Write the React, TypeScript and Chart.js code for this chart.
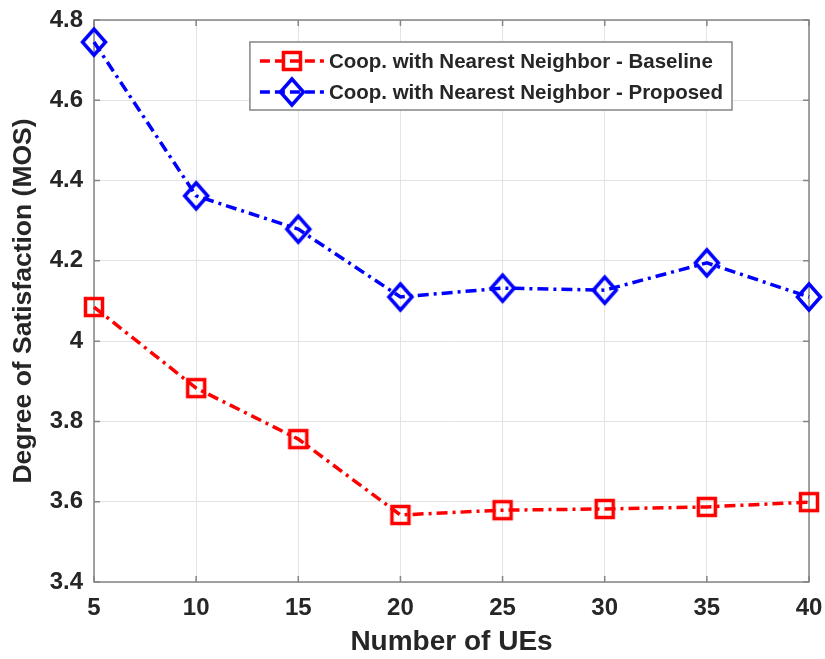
import React, { useEffect, useRef } from 'react';
import { Chart, registerables } from 'chart.js';

Chart.register(...registerables);

const ues = [5, 10, 15, 20, 25, 30, 35, 40];
const baseline = [4.085, 3.883, 3.756, 3.567, 3.579, 3.582, 3.587, 3.599];
const proposed = [4.745, 4.362, 4.279, 4.11, 4.132, 4.127, 4.195, 4.11];
const seriesNames = [
  'Coop. with Nearest Neighbor - Baseline',
  'Coop. with Nearest Neighbor - Proposed',
];
const xTitle = 'Number of UEs';
const yTitle = 'Degree of Satisfaction (MOS)';
const xRange = [5, 40];
const xStep = 5;
const yRange = [3.4, 4.8];
const yStep = 0.2;

const FONT = '"Liberation Sans", Arial, Helvetica, sans-serif';
const TEXT = '#262626';
const AXIS = '#858585';
const DASH = [11, 5, 3, 5];

function makeSquare(color: string) {
  const c = document.createElement('canvas');
  c.width = 24;
  c.height = 24;
  const g = c.getContext('2d')!;
  g.strokeStyle = color;
  g.lineWidth = 3.5;
  g.strokeRect(3.5, 3.5, 17, 17);
  return c;
}

function makeDiamond(color: string) {
  const c = document.createElement('canvas');
  c.width = 30;
  c.height = 34;
  const g = c.getContext('2d')!;
  g.strokeStyle = color;
  g.lineWidth = 3.5;
  g.lineJoin = 'miter';
  g.beginPath();
  g.moveTo(15, 4);
  g.lineTo(26.5, 17);
  g.lineTo(15, 30);
  g.lineTo(3.5, 17);
  g.closePath();
  g.stroke();
  return c;
}

const frameTicksPlugin = {
  id: 'frameTicks',
  beforeDatasetsDraw(chart: any) {
    const { ctx, chartArea, scales } = chart;
    const { left, right, top, bottom } = chartArea;
    ctx.save();
    ctx.strokeStyle = AXIS;
    ctx.lineWidth = 1.5;
    ctx.beginPath();
    const tl = 6;
    scales.x.ticks.forEach((t: any) => {
      const px = scales.x.getPixelForValue(t.value);
      ctx.moveTo(px, bottom);
      ctx.lineTo(px, bottom - tl);
      ctx.moveTo(px, top);
      ctx.lineTo(px, top + tl);
    });
    scales.y.ticks.forEach((t: any) => {
      const py = scales.y.getPixelForValue(t.value);
      ctx.moveTo(left, py);
      ctx.lineTo(left + tl, py);
      ctx.moveTo(right, py);
      ctx.lineTo(right - tl, py);
    });
    ctx.stroke();
    ctx.strokeRect(left, top, right - left, bottom - top);
    ctx.restore();
  },
};

const boxLegendPlugin = {
  id: 'boxLegend',
  afterDatasetsDraw(chart: any) {
    const { ctx, chartArea } = chart;
    const ds = chart.data.datasets;
    ctx.save();
    ctx.font = `bold 20.5px ${FONT}`;
    const textW = Math.max(...ds.map((d: any) => ctx.measureText(d.label).width));
    const padL = 10, sample = 64, gap = 5, padR = 9, rowH = 31;
    const width = padL + sample + gap + textW + padR;
    const height = 68;
    const right = chartArea.right - 77;
    const top = chartArea.top + 22;
    const left = right - width;
    ctx.fillStyle = '#ffffff';
    ctx.fillRect(left, top, width, height);
    ctx.strokeStyle = AXIS;
    ctx.lineWidth = 1.5;
    ctx.strokeRect(left, top, width, height);
    ds.forEach((d: any, i: number) => {
      const y = top + 19 + i * rowH;
      const x0 = left + padL;
      ctx.save();
      ctx.strokeStyle = d.borderColor;
      ctx.lineWidth = 3.5;
      ctx.setLineDash([10, 5]);
      ctx.beginPath();
      ctx.moveTo(x0, y);
      ctx.lineTo(x0 + sample, y);
      ctx.stroke();
      ctx.restore();
      const img = d.pointStyle as HTMLCanvasElement;
      ctx.drawImage(img, x0 + sample / 2 - img.width / 2, y - img.height / 2);
      ctx.fillStyle = TEXT;
      ctx.textBaseline = 'middle';
      ctx.textAlign = 'left';
      ctx.fillText(d.label, x0 + sample + gap, y + 1);
    });
    ctx.restore();
  },
};

export default function App() {
  const ref = useRef<HTMLCanvasElement>(null);

  useEffect(() => {
    const redSq = makeSquare('#ff0000');
    const blueDi = makeDiamond('#0000ff');
    const chart = new Chart(ref.current!, {
      type: 'line',
      data: {
        datasets: [
          {
            label: seriesNames[0],
            data: ues.map((x, i) => ({ x, y: baseline[i] })),
            borderColor: '#ff0000',
            backgroundColor: '#ff0000',
            borderWidth: 3.5,
            borderDash: DASH,
            pointStyle: redSq as any,
            pointRadius: 10,
            clip: false as any,
          },
          {
            label: seriesNames[1],
            data: ues.map((x, i) => ({ x, y: proposed[i] })),
            borderColor: '#0000ff',
            backgroundColor: '#0000ff',
            borderWidth: 3.5,
            borderDash: DASH,
            pointStyle: blueDi as any,
            pointRadius: 12,
            clip: false as any,
          },
        ],
      },
      options: {
        animation: false,
        responsive: false,
        events: [],
        layout: { padding: { left: 0, right: 16, top: 20, bottom: 0 } },
        plugins: {
          legend: { display: false },
          tooltip: { enabled: false },
        },
        scales: {
          x: {
            type: 'linear',
            min: xRange[0],
            max: xRange[1],
            ticks: {
              stepSize: xStep,
              color: TEXT,
              font: { family: FONT, size: 24, weight: 'bold' },
              padding: 12,
              maxRotation: 0,
            },
            grid: { color: '#e3e3e3', lineWidth: 1, drawTicks: false },
            border: { display: false },
            title: {
              display: true,
              text: xTitle,
              color: TEXT,
              font: { family: FONT, size: 28, weight: 'bold' },
              padding: { top: 0, bottom: 0 },
            },
            afterFit: (s: any) => {
              s.height = 77;
              s.paddingLeft = 0;
              s.paddingRight = 0;
            },
          },
          y: {
            min: yRange[0],
            max: yRange[1],
            ticks: {
              stepSize: yStep,
              color: TEXT,
              font: { family: FONT, size: 24, weight: 'bold' },
              padding: 11,
              callback: (v: any) => String(Number(Number(v).toFixed(1))),
            },
            grid: { color: '#e3e3e3', lineWidth: 1, drawTicks: false },
            border: { display: false },
            title: {
              display: true,
              text: yTitle,
              color: TEXT,
              font: { family: FONT, size: 26.5, weight: 'bold' },
              padding: { top: 8, bottom: 0 },
            },
            afterFit: (s: any) => {
              s.width = 94;
              s.paddingTop = 0;
              s.paddingBottom = 0;
            },
          },
        },
      } as any,
      plugins: [frameTicksPlugin, boxLegendPlugin],
    });
    return () => chart.destroy();
  }, []);

  return (
    <div style={{ position: 'fixed', left: 0, top: 0, width: 825, height: 659, background: '#fff' }}>
      <canvas ref={ref} width={825} height={659} style={{ display: 'block', width: 825, height: 659 }} />
    </div>
  );
}
